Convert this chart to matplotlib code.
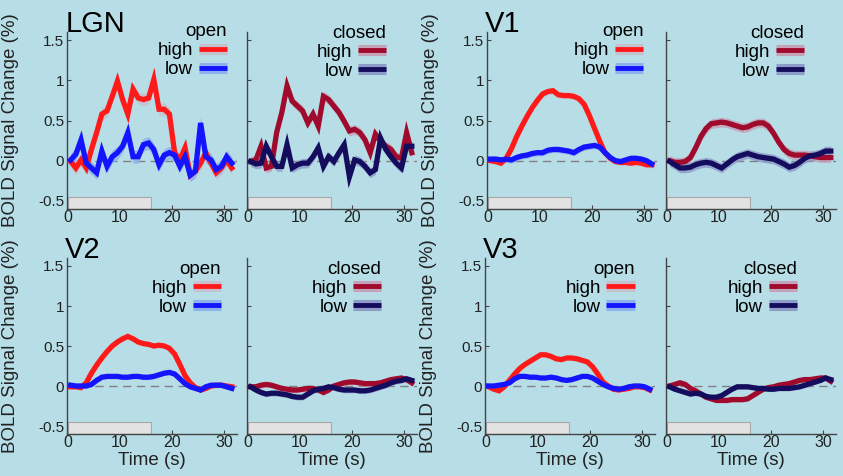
import numpy as np
import matplotlib
matplotlib.use("Agg")
import matplotlib.pyplot as plt
from matplotlib.lines import Line2D
from matplotlib.patches import Rectangle

plt.rcParams["font.family"] = ["Liberation Sans", "DejaVu Sans"]

# time points (s) and stimulus block
time = np.arange(32) + 0.5
stim_on, stim_off = 0, 16

# LGN
lgn_open_high = [-0.01, -0.09, 0.01, -0.09, 0.14, 0.35, 0.58, 0.62, 0.80, 0.99, 0.76, 0.58,
                 0.89, 0.78, 0.76, 0.78, 1.01, 0.64, 0.64, 0.58, 0.10, 0.01, 0.16, -0.18,
                 -0.13, -0.03, 0.10, -0.03, -0.15, -0.09, 0.01, -0.09]
lgn_open_low = [0.01, 0.08, 0.26, -0.03, -0.09, -0.15, 0.12, -0.07, 0.05, 0.10, 0.18, 0.35,
                0.05, 0.05, 0.20, 0.22, 0.14, -0.05, 0.07, 0.10, 0.07, -0.07, 0.05, -0.18,
                -0.13, 0.47, 0.05, 0.01, -0.11, -0.07, 0.05, -0.03]
lgn_closed_high = [-0.01, 0.01, 0.18, -0.09, -0.07, 0.35, 0.60, 0.93, 0.74, 0.68, 0.62, 0.47,
                   0.58, 0.43, 0.80, 0.76, 0.68, 0.60, 0.49, 0.37, 0.39, 0.35, 0.26, 0.10,
                   0.33, 0.24, 0.18, 0.14, 0.05, 0.03, 0.35, 0.10]
lgn_closed_low = [-0.01, -0.04, -0.03, 0.18, 0.05, -0.07, -0.07, 0.20, -0.09, -0.05, -0.03, -0.03,
                  0.05, 0.16, -0.07, 0.05, -0.01, 0.10, 0.20, -0.20, 0.01, -0.01, -0.07, -0.15,
                  -0.11, 0.28, 0.14, 0.05, -0.03, -0.09, 0.18, 0.18]

# V1
v1_open_high = [0.00, -0.01, -0.03, 0.03, 0.15, 0.30, 0.43, 0.55, 0.66, 0.75, 0.83, 0.86,
                0.87, 0.82, 0.81, 0.81, 0.80, 0.77, 0.70, 0.56, 0.40, 0.24, 0.10, 0.03,
                -0.01, -0.02, -0.02, -0.03, -0.02, -0.03, -0.05, -0.05]
v1_open_low = [0.02, 0.02, 0.01, 0.02, 0.01, 0.04, 0.06, 0.07, 0.09, 0.10, 0.10, 0.13,
               0.14, 0.14, 0.13, 0.12, 0.10, 0.14, 0.17, 0.18, 0.19, 0.17, 0.10, 0.04,
               0.00, -0.01, 0.01, 0.03, 0.03, 0.02, 0.00, -0.04]
v1_closed_high = [0.00, -0.02, -0.02, -0.01, 0.04, 0.16, 0.30, 0.40, 0.46, 0.47, 0.48, 0.47,
                  0.45, 0.43, 0.41, 0.42, 0.45, 0.47, 0.47, 0.43, 0.34, 0.23, 0.14, 0.09,
                  0.07, 0.07, 0.07, 0.06, 0.05, 0.04, 0.04, 0.04]
v1_closed_low = [-0.01, -0.05, -0.09, -0.09, -0.08, -0.05, -0.03, -0.02, -0.03, -0.06, -0.09, -0.04,
                 0.01, 0.05, 0.07, 0.09, 0.07, 0.05, 0.04, 0.03, 0.02, -0.01, -0.04, -0.08,
                 -0.06, -0.02, 0.03, 0.06, 0.07, 0.09, 0.12, 0.12]

# V2
v2_open_high = [-0.01, -0.01, -0.02, 0.04, 0.16, 0.26, 0.35, 0.43, 0.50, 0.55, 0.59, 0.62,
                0.59, 0.55, 0.53, 0.52, 0.50, 0.51, 0.50, 0.47, 0.40, 0.27, 0.13, 0.04,
                -0.02, -0.05, -0.03, 0.00, 0.01, 0.01, 0.00, -0.01]
v2_open_low = [0.01, 0.00, 0.00, 0.00, 0.02, 0.07, 0.11, 0.12, 0.12, 0.12, 0.11, 0.11,
               0.12, 0.12, 0.11, 0.11, 0.12, 0.14, 0.16, 0.17, 0.15, 0.09, 0.03, -0.01,
               -0.03, -0.05, -0.01, 0.01, 0.01, 0.01, -0.01, -0.03]
v2_closed_high = [-0.01, -0.01, 0.01, 0.02, 0.01, -0.01, -0.03, -0.04, -0.05, -0.05, -0.04, -0.03,
                  -0.03, -0.05, -0.08, -0.05, 0.00, 0.02, 0.04, 0.05, 0.05, 0.04, 0.03, 0.03,
                  0.03, 0.04, 0.06, 0.08, 0.09, 0.10, 0.08, 0.04]
v2_closed_low = [-0.01, -0.05, -0.08, -0.10, -0.09, -0.09, -0.10, -0.11, -0.13, -0.14, -0.14, -0.10,
                 -0.06, -0.04, -0.03, -0.01, -0.02, -0.04, -0.05, -0.05, -0.05, -0.06, -0.06, -0.05,
                 -0.03, -0.01, 0.01, 0.04, 0.06, 0.07, 0.09, 0.07]

# V3
v3_open_high = [-0.01, -0.04, -0.06, -0.01, 0.07, 0.15, 0.22, 0.27, 0.31, 0.35, 0.39, 0.39,
                0.37, 0.34, 0.33, 0.35, 0.35, 0.34, 0.32, 0.30, 0.24, 0.15, 0.05, 0.00,
                -0.04, -0.05, -0.04, -0.03, -0.01, -0.01, -0.02, -0.05]
v3_open_low = [0.00, 0.00, 0.01, 0.02, 0.04, 0.09, 0.12, 0.12, 0.11, 0.11, 0.10, 0.10,
               0.11, 0.10, 0.08, 0.07, 0.08, 0.10, 0.12, 0.12, 0.10, 0.06, 0.02, -0.01,
               -0.03, -0.04, -0.03, -0.01, 0.00, 0.00, -0.01, -0.04]
v3_closed_high = [0.00, 0.02, 0.04, 0.02, -0.03, -0.06, -0.10, -0.14, -0.16, -0.18, -0.18, -0.18,
                  -0.17, -0.17, -0.17, -0.16, -0.12, -0.08, -0.04, -0.02, -0.01, 0.01, 0.02, 0.03,
                  0.05, 0.07, 0.08, 0.08, 0.09, 0.10, 0.10, 0.06]
v3_closed_low = [-0.01, -0.04, -0.06, -0.08, -0.10, -0.09, -0.10, -0.13, -0.14, -0.14, -0.12, -0.08,
                 -0.04, -0.01, -0.01, -0.01, -0.02, -0.03, -0.03, -0.04, -0.04, -0.03, -0.03, -0.03,
                 -0.02, -0.01, 0.01, 0.03, 0.05, 0.07, 0.10, 0.08]

# approximate error band half-width per panel
sem = {("LGN", "open"): 0.08, ("LGN", "closed"): 0.06,
       ("V1", "open"): 0.04, ("V1", "closed"): 0.06,
       ("V2", "open"): 0.03, ("V2", "closed"): 0.035,
       ("V3", "open"): 0.025, ("V3", "closed"): 0.03}

bg = "#B7DEE7"
spine_col = "#444444"
text_col = "#222222"
col_open = ("#FF1A1A", "#1414FF")
col_closed = ("#A00A2C", "#140C5C")
band_open = ("#C4C2CC", "#8CB2EE")
band_closed = ("#C4A2B8", "#8E9CCA")

# panel layout (pixels on the 843x476 figure)
W, H = 843, 476
ax_w = 170
rows = {"top": (32, 209), "bottom": (258, 434)}
panels = [
    ("LGN", "open", 67, "top", lgn_open_high, lgn_open_low, (0.94, 1.05)),
    ("LGN", "closed", 247, "top", lgn_closed_high, lgn_closed_low, (0.82, 1.04)),
    ("V1", "open", 487, "top", v1_open_high, v1_open_low, (0.92, 1.05)),
    ("V1", "closed", 666, "top", v1_closed_high, v1_closed_low, (0.81, 1.04)),
    ("V2", "open", 67, "bottom", v2_open_high, v2_open_low, (0.905, 0.985)),
    ("V2", "closed", 247, "bottom", v2_closed_high, v2_closed_low, (0.79, 0.985)),
    ("V3", "open", 485, "bottom", v3_open_high, v3_open_low, (0.88, 0.985)),
    ("V3", "closed", 666, "bottom", v3_closed_high, v3_closed_low, (0.77, 0.985)),
]

fig = plt.figure(figsize=(W / 100, H / 100), dpi=100, facecolor=bg)

for region, cond, px, row, high, low, anchor in panels:
    top, bottom = rows[row]
    ax = fig.add_axes([px / W, 1 - bottom / H, ax_w / W, (bottom - top) / H])
    ax.set_facecolor("none")
    cols = col_open if cond == "open" else col_closed
    bands = band_open if cond == "open" else band_closed
    s = sem[(region, cond)]

    ax.axhline(0, color="#808080", lw=1, ls=(0, (6, 4)), zorder=1)
    ax.add_patch(Rectangle((stim_on, -0.6), stim_off - stim_on, 0.15,
                           facecolor="#E2E2E2", edgecolor="#A8A8A8", lw=0.8, zorder=2))

    for vals, c, b in [(high, cols[0], bands[0]), (low, cols[1], bands[1])]:
        v = np.array(vals)
        ax.fill_between(time, v - s, v + s, color=b, alpha=0.85, lw=0, zorder=3)
        ax.plot(time, v, color=c, lw=3.8, solid_joinstyle="miter", zorder=4)

    ax.set_xlim(-0.2, 32.5)
    ax.set_ylim(-0.6, 1.6)
    ax.set_xticks([0, 10, 20, 30])
    ax.set_yticks([-0.5, 0, 0.5, 1, 1.5])
    ax.set_yticklabels(["-0.5", "0", "0.5", "1", "1.5"])
    for side in ["top", "right"]:
        ax.spines[side].set_visible(False)
    for side in ["left", "bottom"]:
        ax.spines[side].set_color(spine_col)
        ax.spines[side].set_linewidth(1)
    ax.tick_params(direction="in", length=3, width=0.8, color=spine_col,
                   labelcolor=text_col)
    ax.tick_params(axis="x", labelsize=11.5, pad=1)
    ax.tick_params(axis="y", labelsize=11, pad=2)

    if cond == "open":
        ax.set_ylabel("BOLD Signal Change (%)", fontsize=13.5, color=text_col)
        ax.yaxis.set_label_coords(-0.28, 0.5)
        ax.text(-0.01, 1.0, region, transform=ax.transAxes, fontsize=21,
                ha="left", va="baseline", color="black")
    else:
        ax.set_yticklabels([])

    if row == "bottom":
        ax.set_xlabel("Time (s)", fontsize=13.5, color=text_col, labelpad=1)

    h_hi = (Line2D([], [], color=bands[0], lw=8, solid_capstyle="butt"),
            Line2D([], [], color=cols[0], lw=3.5, solid_capstyle="butt"))
    h_lo = (Line2D([], [], color=bands[1], lw=8, solid_capstyle="butt"),
            Line2D([], [], color=cols[1], lw=3.5, solid_capstyle="butt"))
    ax.legend([h_hi, h_lo], ["high", "low"], title=cond, loc="upper right",
              bbox_to_anchor=anchor, frameon=False, markerfirst=False,
              fontsize=13.5, title_fontsize=13.5, handlelength=1.5,
              handletextpad=0.3, labelspacing=0.1, borderpad=0,
              borderaxespad=0, alignment="right")

fig.savefig("out.png", dpi=100, facecolor=bg)
